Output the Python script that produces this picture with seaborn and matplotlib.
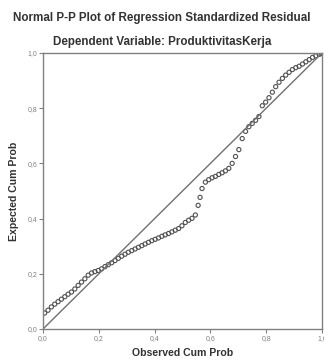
import matplotlib
matplotlib.use("Agg")
import matplotlib.pyplot as plt
import seaborn as sns
import pandas as pd

title = "Normal P-P Plot of Regression Standardized Residual"
subtitle = "Dependent Variable: ProduktivitasKerja"
x_label = "Observed Cum Prob"
y_label = "Expected Cum Prob"
tick_values = [0.0, 0.2, 0.4, 0.6, 0.8, 1.0]
tick_labels = ["0,0", "0,2", "0,4", "0,6", "0,8", "1,0"]

observed = [0.006, 0.018, 0.030, 0.042, 0.054, 0.066, 0.078, 0.090, 0.102, 0.114,
            0.126, 0.138, 0.150, 0.162, 0.174, 0.186, 0.198, 0.210, 0.222, 0.234,
            0.246, 0.258, 0.270, 0.282, 0.294, 0.306, 0.318, 0.330, 0.342, 0.354,
            0.366, 0.378, 0.390, 0.402, 0.414, 0.426, 0.438, 0.450, 0.462, 0.474,
            0.486, 0.498, 0.510, 0.522, 0.534, 0.546, 0.556, 0.563, 0.570, 0.582,
            0.594, 0.606, 0.618, 0.630, 0.642, 0.654, 0.666, 0.678, 0.690, 0.702,
            0.714, 0.726, 0.738, 0.750, 0.762, 0.774, 0.786, 0.798, 0.810, 0.822,
            0.834, 0.846, 0.858, 0.870, 0.882, 0.894, 0.906, 0.918, 0.930, 0.942,
            0.954, 0.966, 0.978, 0.990, 0.998]
expected = [0.058, 0.068, 0.080, 0.090, 0.099, 0.108, 0.117, 0.126, 0.134, 0.145,
            0.158, 0.170, 0.182, 0.195, 0.203, 0.208, 0.212, 0.218, 0.226, 0.233,
            0.240, 0.248, 0.256, 0.264, 0.271, 0.278, 0.284, 0.290, 0.296, 0.302,
            0.308, 0.314, 0.320, 0.325, 0.330, 0.336, 0.341, 0.346, 0.352, 0.358,
            0.364, 0.374, 0.386, 0.394, 0.401, 0.413, 0.448, 0.477, 0.509, 0.532,
            0.541, 0.548, 0.553, 0.560, 0.566, 0.573, 0.582, 0.600, 0.625, 0.650,
            0.690, 0.716, 0.733, 0.745, 0.756, 0.770, 0.809, 0.822, 0.838, 0.858,
            0.878, 0.894, 0.908, 0.920, 0.930, 0.940, 0.947, 0.952, 0.960, 0.968,
            0.976, 0.984, 0.990, 0.995, 0.998]
diag = [0.0, 1.0]

sns.set_style("white")
plt.rcParams["font.family"] = ["Liberation Sans", "DejaVu Sans"]

df = pd.DataFrame({"obs": observed, "exp": expected})
ddf = pd.DataFrame({"x": diag, "y": diag})

fig = plt.figure(figsize=(3.24, 3.63), dpi=100)
ax = fig.add_axes([43 / 324, 1 - 329 / 363, 279 / 324, 276 / 363])

sns.lineplot(data=ddf, x="x", y="y", ax=ax, color="#707070", linewidth=1.0)
sns.scatterplot(data=df, x="obs", y="exp", ax=ax, marker="o", s=9,
                facecolor="none", edgecolor="#505050", linewidth=0.8)

ax.set_xlim(0, 1)
ax.set_ylim(0, 1)
ax.set_xticks(tick_values)
ax.set_xticklabels(tick_labels)
ax.set_yticks(tick_values)
ax.set_yticklabels(tick_labels)
ax.tick_params(axis="both", labelsize=5, colors="#808080", length=3, width=0.8,
               direction="out", pad=1, bottom=True, left=True)
for sp in ax.spines.values():
    sp.set_color("#808080")
    sp.set_linewidth(1.0)

ax.set_xlabel(x_label, fontsize=7.6, fontweight="bold", color="#333333", labelpad=5)
ax.set_ylabel(y_label, fontsize=7.6, fontweight="bold", color="#333333", labelpad=6)

fig.text(0.5, 1 - 18 / 363, title, ha="center", va="center", fontsize=8.4,
         fontweight="bold", color="#333333")
fig.text(0.5, 1 - 42 / 363, subtitle, ha="center", va="center", fontsize=8.4,
         fontweight="bold", color="#333333")

fig.savefig("out.png", dpi=100)
